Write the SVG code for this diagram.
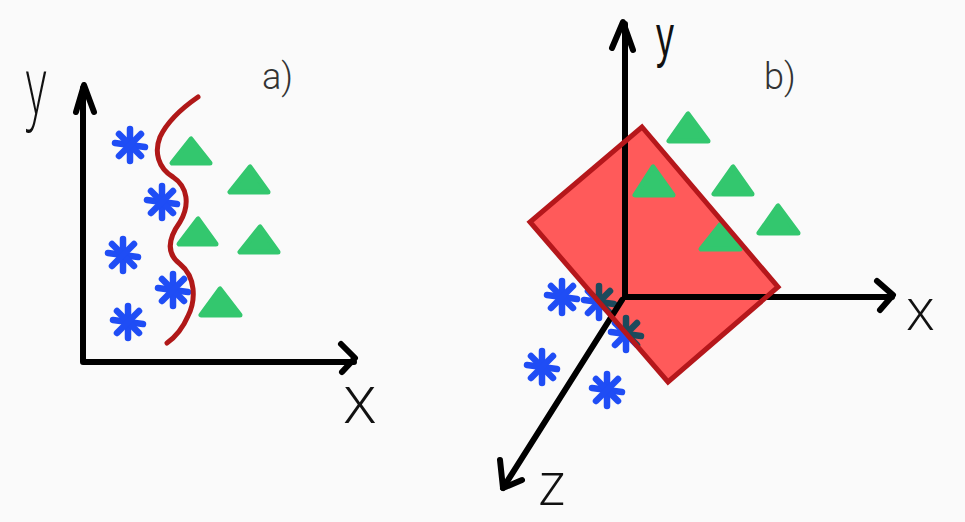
<svg xmlns="http://www.w3.org/2000/svg" xmlns:xlink="http://www.w3.org/1999/xlink" width="965" height="522" viewBox="0 0 965 522">
  <style>
    .axis { fill: none; stroke: #000; stroke-width: 6; stroke-linecap: round; stroke-linejoin: round; }
    .tri { fill: #33C76E; stroke: #33C76E; stroke-width: 5; stroke-linejoin: round; }
    .lbl { font-family: "Open Sans", "DejaVu Sans", sans-serif; font-weight: 300; fill: #111; }
    .tag { font-family: Roboto, "Liberation Sans", sans-serif; font-weight: 300; fill: #333; font-size: 36px; }
  </style>
  <defs>
    <g id="ast" stroke="currentColor" stroke-width="6.5" stroke-linecap="round" fill="none">
      <line x1="0" y1="-16" x2="0" y2="16"/>
      <line x1="-15" y1="-2" x2="15" y2="2"/>
      <line x1="-11" y1="-11" x2="11" y2="11"/>
      <line x1="11" y1="-11" x2="-11" y2="11"/>
    </g>
    <clipPath id="plane">
      <polygon points="642,127 778,287 668,382 530,222"/>
    </clipPath>
  </defs>
  <rect width="965" height="522" fill="#FAFAFA"/>

  <g id="panel-a">
    <g id="a-points">
      <use xlink:href="#ast" x="130" y="145" color="#1F4DF5"/>
      <use xlink:href="#ast" x="162" y="202" color="#1F4DF5"/>
      <use xlink:href="#ast" x="123" y="255" color="#1F4DF5"/>
      <use xlink:href="#ast" x="173" y="290" color="#1F4DF5"/>
      <use xlink:href="#ast" x="128" y="322" color="#1F4DF5"/>
      <polygon class="tri" points="191,139 172,163 210,163"/>
      <polygon class="tri" points="250,167 230,192 268,192"/>
      <polygon class="tri" points="198,219 179,244 216,244"/>
      <polygon class="tri" points="260,227 240,252 278,252"/>
      <polygon class="tri" points="220,289 201,315 240,315"/>
    </g>
    <path id="a-boundary" d="M198,97 C185,106 168,120 160,137 C154,152 158,168 173,177 C188,187 190,205 180,222 C170,236 164,252 180,264 C196,277 196,300 188,316 C182,330 174,338 167,343" fill="none" stroke="#B01818" stroke-width="5" stroke-linecap="round"/>
    <text class="lbl" font-size="80" transform="translate(26,114) scale(0.55,1)">y</text>
    <text class="lbl" font-size="68" x="343" y="423">x</text>
    <text class="tag" x="262" y="89">a)</text>
  </g>

  <g id="panel-b">
    <g id="b-stars">
      <use xlink:href="#ast" x="562" y="297" color="#1F4DF5"/>
      <use xlink:href="#ast" x="599" y="302" color="#1F4DF5"/>
      <use xlink:href="#ast" x="626" y="334" color="#1F4DF5"/>
      <use xlink:href="#ast" x="542" y="367" color="#1F4DF5"/>
      <use xlink:href="#ast" x="607" y="390" color="#1F4DF5"/>
    </g>
    <polygon id="plane-fill" points="642,127 778,287 668,382 530,222" fill="#FF5A5A"/>
    <g clip-path="url(#plane)">
      <use xlink:href="#ast" x="599" y="302" color="#1D4A5C"/>
      <use xlink:href="#ast" x="626" y="334" color="#1D4A5C"/>
    </g>
    <g id="b-triangles">
      <polygon class="tri" points="688,114 669,141 708,141"/>
      <polygon class="tri" points="653,167 635,195 673,195"/>
      <polygon class="tri" points="733,167 714,194 752,194"/>
      <polygon class="tri" points="778,206 759,233 798,233"/>
      <polygon class="tri" points="720,225 701,249 740,249"/>
    </g>
    <text font-family="Liberation Sans, Arial, sans-serif" fill="#111" font-size="60" transform="translate(656,56) scale(0.6,1)">y</text>
    <text class="lbl" font-size="58" x="906" y="330">x</text>
    <text class="lbl" font-size="60" x="538" y="505">z</text>
    <text class="tag" x="764" y="89">b)</text>
  </g>

  <g id="connectors">
    <path class="axis" d="M83,88 L83,362 L354,362"/>
    <path class="axis" d="M76,112 L84,85 L94,112"/>
    <path class="axis" d="M341,344 L355,358 L342,372"/>
    <path class="axis" d="M625,24 L625,297 L892,297"/>
    <path class="axis" d="M612,48 L623,22 L633,50"/>
    <path class="axis" d="M877,281 L893,295 L880,310"/>
    <path class="axis" d="M622,300 L503,488"/>
    <path class="axis" d="M500,460 L503,488 L522,480"/>
  </g>

  <polygon id="plane-edge" points="642,127 778,287 668,382 530,222" fill="none" stroke="#B5171B" stroke-width="5" stroke-linejoin="miter"/>
</svg>
